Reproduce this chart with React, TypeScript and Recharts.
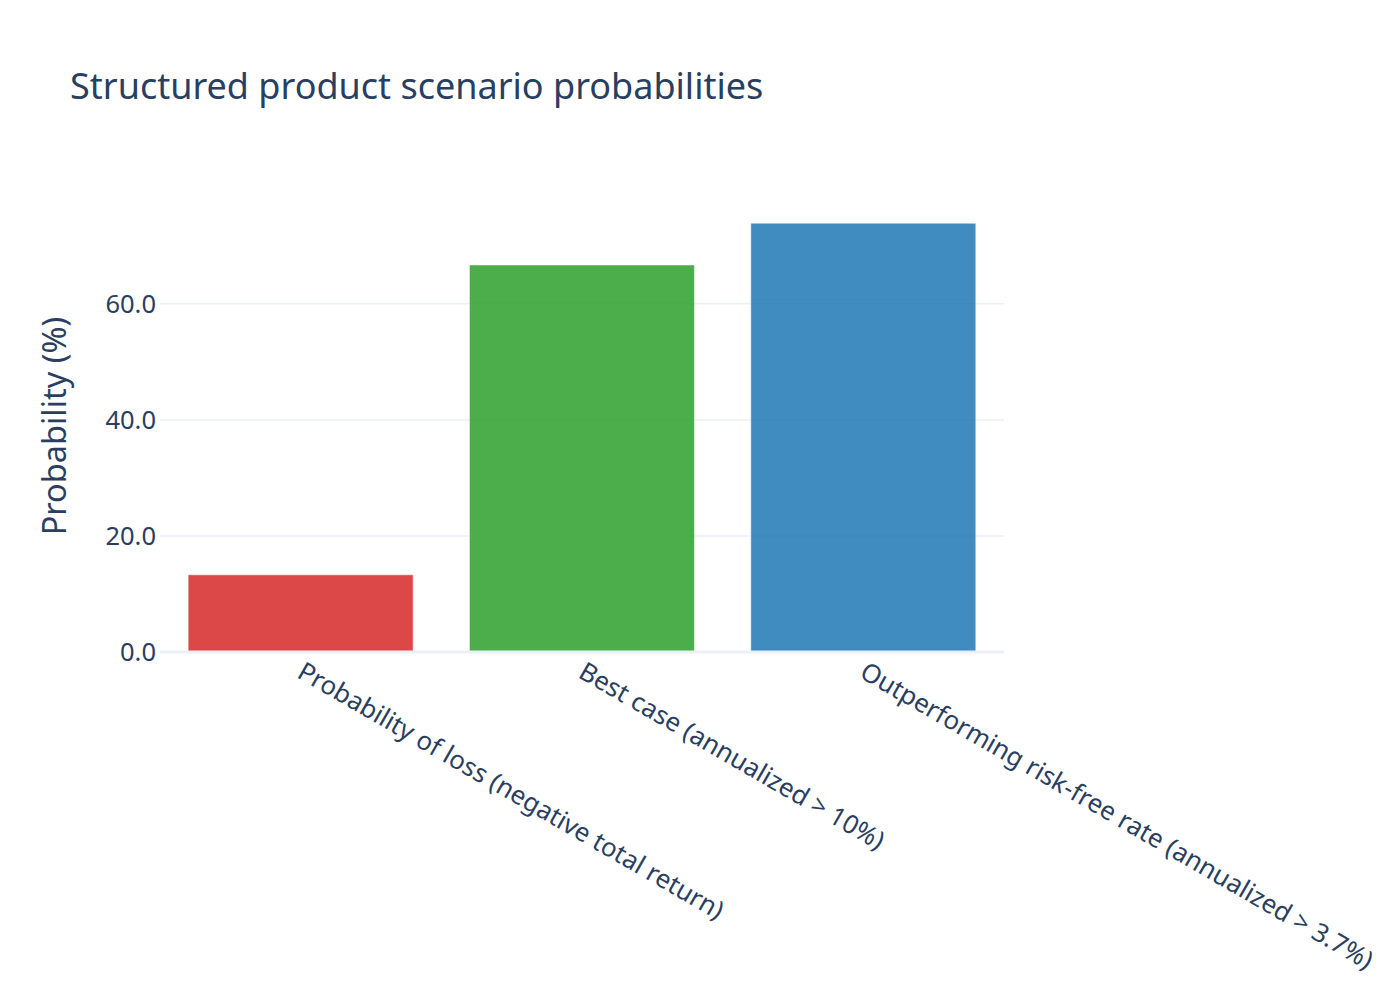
import React from 'react';
import {
  BarChart,
  Bar,
  XAxis,
  YAxis,
  CartesianGrid,
  ReferenceLine,
  Cell,
  Label,
} from 'recharts';

const scenarios = [
  'Probability of loss (negative total return)',
  'Best case (annualized > 10%)',
  'Outperforming risk-free rate (annualized > 3.7%)',
];
const probabilities = [13.3, 66.7, 73.9];
const barColors = ['#d62728', '#2ca02c', '#1f77b4'];
const yTicks = [0, 20, 40, 60];
const gridValues = [20, 40, 60];

const FONT = '"Noto Sans", "Open Sans", sans-serif';
const TEXT = '#2a3f5f';
const GRID = '#ebf0f8';

const chartData = scenarios.map((name, i) => ({ name, value: probabilities[i] }));

// Labels tilted 30deg, starting at the tick and running down to the right
function AngledTick({ x, y, payload }: any) {
  return (
    <text
      x={x}
      y={y}
      transform={`rotate(30, ${x}, ${y})`}
      textAnchor="start"
      dominantBaseline="central"
      fill={TEXT}
      fontSize={25.8}
      fontFamily={FONT}
    >
      {payload.value}
    </text>
  );
}

export default function App() {
  return (
    <div style={{ position: 'absolute', top: 0, left: 0, width: 1400, height: 1000, background: '#fff' }}>
      <svg width={1400} height={1000} style={{ position: 'absolute', top: 0, left: 0, pointerEvents: 'none' }}>
        <text x={70} y={99} fill={TEXT} fontSize={36} fontFamily={FONT}>
          Structured product scenario probabilities
        </text>
      </svg>
      <BarChart
        width={1400}
        height={1000}
        data={chartData}
        margin={{ top: 200, right: 396, bottom: 48, left: 70 }}
        barCategoryGap="10%"
      >
        <CartesianGrid horizontal vertical={false} horizontalValues={gridValues} stroke={GRID} strokeWidth={1.5} />
        <XAxis
          dataKey="name"
          axisLine={false}
          tickLine={false}
          interval={0}
          height={300}
          tickSize={0}
          tickMargin={16}
          tick={<AngledTick />}
        />
        <YAxis
          width={90}
          domain={[0, 77.9]}
          ticks={yTicks}
          allowDataOverflow
          axisLine={false}
          tickLine={false}
          tickSize={0}
          tickMargin={4}
          tickFormatter={(v: number) => v.toFixed(1)}
          tick={{ fill: TEXT, fontSize: 25.5, fontFamily: FONT }}
        >
          <Label
            content={({ viewBox }: any) => (
              <text
                x={viewBox.x - 17}
                y={viewBox.y + viewBox.height / 2}
                transform={`rotate(-90, ${viewBox.x - 17}, ${viewBox.y + viewBox.height / 2})`}
                textAnchor="middle"
                dominantBaseline="central"
                fill={TEXT}
                fontSize={32.5}
                fontFamily={FONT}
              >
                Probability (%)
              </text>
            )}
          />
        </YAxis>
        <ReferenceLine y={0} stroke={GRID} strokeWidth={3} />
        <Bar dataKey="value" stroke="#ffffff" strokeWidth={0.5} isAnimationActive={false}>
          {chartData.map((d, i) => (
            <Cell key={d.name} fill={barColors[i]} fillOpacity={0.85} />
          ))}
        </Bar>
      </BarChart>
    </div>
  );
}
